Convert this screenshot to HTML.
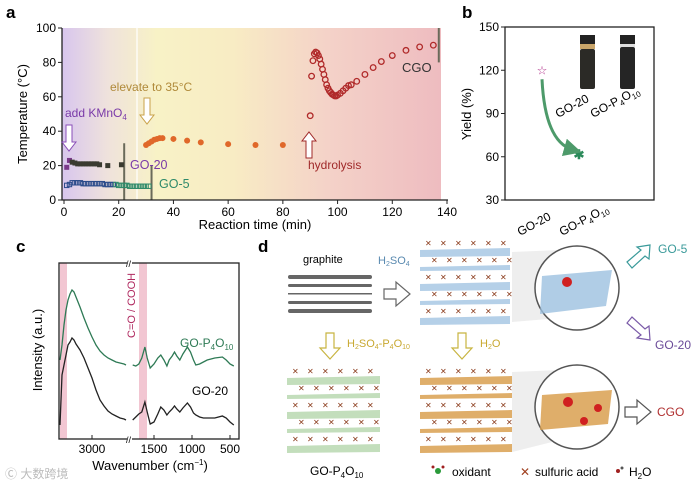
<!DOCTYPE html>
<html><head><meta charset="utf-8"><style>
html,body{margin:0;padding:0;background:#fff;width:700px;height:489px;overflow:hidden}
svg{font-family:"Liberation Sans",Arial,sans-serif}
</style></head><body>
<svg id="fig" width="700" height="489" viewBox="0 0 700 489" xmlns="http://www.w3.org/2000/svg">
<defs>
<linearGradient id="bga" x1="0" x2="1" y1="0" y2="0">
<stop offset="0" stop-color="#d8c6ee"/><stop offset="0.12" stop-color="#efe2dc"/><stop offset="0.25" stop-color="#f8f2c6"/><stop offset="0.45" stop-color="#f8ecc4"/><stop offset="0.7" stop-color="#f4d2c8"/><stop offset="1" stop-color="#eebcc0"/>
</linearGradient>
<marker id="ah" markerWidth="6" markerHeight="6" refX="3" refY="3" orient="auto"><path d="M0,0 L6,3 L0,6 Z" fill="#4d9a6a"/></marker>
</defs>
<g>
<text x="6" y="18" font-size="17" font-weight="bold">a</text>
<rect x="62" y="28" width="379" height="172" fill="url(#bga)"/>
<line x1="137" y1="28" x2="137" y2="200" stroke="#fff" stroke-width="1.5" opacity="0.8"/>
<g id="a-marks"></g>
<path d="M62,28 V200 H448" fill="none" stroke="#222" stroke-width="1.3"/>
<g id="a-axes"></g>
<text x="255" y="229" font-size="13" text-anchor="middle">Reaction time (min)</text>
<text transform="translate(27,114) rotate(-90)" font-size="13" text-anchor="middle">Temperature (°C)</text>
<text x="65" y="117" font-size="12" fill="#7a3aa8">add KMnO<tspan font-size="8" dy="3">4</tspan></text>
<path d="M66,125 h6 v17 h4 l-7,9 l-7,-9 h4 z" fill="#fff" stroke="#8a4fb8" stroke-width="1"/>
<text x="110" y="91" font-size="12" fill="#b08a3a">elevate to 35°C</text>
<path d="M144,98 h6 v17 h4 l-7,9 l-7,-9 h4 z" fill="#fff" stroke="#c9a24a" stroke-width="1"/>
<text x="130" y="169" font-size="12.5" fill="#7a3aa8">GO-20</text>
<text x="159" y="188" font-size="12.5" fill="#2e8a6a">GO-5</text>
<text x="308" y="169" font-size="12" fill="#a02a2a">hydrolysis</text>
<path d="M306,158 h6 v-17 h4 l-7,-9 l-7,9 h4 z" fill="#fff" stroke="#a02a2a" stroke-width="1"/>
<text x="402" y="72" font-size="13" fill="#333">CGO</text>
</g>
<g>
<text x="462" y="18" font-size="17" font-weight="bold">b</text>
<rect x="505" y="27" width="149" height="173" fill="#fff" stroke="#222" stroke-width="1.3"/>
<g id="b-axes"></g>
<text transform="translate(471,114) rotate(-90)" font-size="13" text-anchor="middle">Yield (%)</text>
<rect x="580" y="35" width="15" height="9" fill="#222"/><rect x="580" y="44" width="15" height="5" fill="#c9a56a"/><rect x="580" y="49" width="15" height="40" rx="2" fill="#2b2a26"/>
<rect x="620" y="35" width="15" height="9" fill="#222"/><rect x="620" y="44" width="15" height="3" fill="#ddd"/><rect x="620" y="47" width="15" height="42" rx="2" fill="#252525"/>
<text transform="translate(558,118) rotate(-28)" font-size="12">GO-20</text>
<text transform="translate(593,118) rotate(-28)" font-size="12">GO-P<tspan font-size="8" dy="3">4</tspan><tspan dy="-3">O</tspan><tspan font-size="8" dy="3">10</tspan></text>
<g id="b-marks"></g>
<text transform="translate(520,236) rotate(-28)" font-size="12">GO-20</text>
<text transform="translate(562,236) rotate(-28)" font-size="12">GO-P<tspan font-size="8" dy="3">4</tspan><tspan dy="-3">O</tspan><tspan font-size="8" dy="3">10</tspan></text>
</g>
<g>
<text x="16" y="252" font-size="17" font-weight="bold">c</text>
<rect x="60" y="263" width="7" height="176" fill="#f2c6d2"/>
<rect x="139" y="263" width="8" height="176" fill="#f2c6d2"/>
<g id="c-marks"></g>
<rect x="59" y="263" width="180" height="176" fill="none" stroke="#222" stroke-width="1.3"/>
<rect x="127" y="259" width="5" height="8" fill="#fff"/><rect x="127" y="435" width="5" height="8" fill="#fff"/>
<text x="126" y="267" font-size="9">//</text><text x="126" y="443" font-size="9">//</text>
<g id="c-axes"></g>
<text x="150" y="470" font-size="13" text-anchor="middle">Wavenumber (cm<tspan font-size="8" dy="-5">−1</tspan><tspan dy="5">)</tspan></text>
<text transform="translate(42,350) rotate(-90)" font-size="13" text-anchor="middle">Intensity (a.u.)</text>
<text transform="translate(135,338) rotate(-90)" font-size="11" fill="#b02a60">C=O / COOH</text>
<text x="180" y="347" font-size="12" fill="#2e7a55">GO-P<tspan font-size="8" dy="3">4</tspan><tspan dy="-3">O</tspan><tspan font-size="8" dy="3">10</tspan></text>
<text x="192" y="395" font-size="12">GO-20</text>
<text x="5" y="478" font-size="12" fill="#bbb">Ⓒ 大数跨境</text>
</g>
<g font-size="11">
<text x="258" y="252" font-size="17" font-weight="bold">d</text>
<text x="303" y="263">graphite</text>
<g fill="#666">
<rect x="288" y="275" width="84" height="4" rx="2"/><rect x="288" y="284" width="84" height="3" rx="1.5"/><rect x="288" y="293" width="84" height="1.5"/><rect x="288" y="301" width="84" height="3" rx="1.5"/><rect x="288" y="309" width="84" height="4" rx="2"/></g>
<text x="378" y="264" fill="#5a8ab0">H<tspan font-size="7" dy="2">2</tspan><tspan dy="-2">SO</tspan><tspan font-size="7" dy="2">4</tspan></text>
<path d="M384,289 h12 v-7 l14,12 l-14,12 v-7 h-12 z" fill="#fff" stroke="#666" stroke-width="1.2"/>
<g id="d-stacks"></g>
<path d="M512,322 L560,318 L560,250 L512,252 Z" fill="#ddd" opacity="0.5"/>
<path d="M512,452 L560,440 L560,370 L512,372 Z" fill="#ddd" opacity="0.5"/>
<circle cx="577" cy="288" r="42" fill="#fff" stroke="#555" stroke-width="1.5"/>
<path d="M542,276 L612,270 L606,306 L540,314 Z" fill="#9cc0e0" opacity="0.8"/>
<circle cx="577" cy="407" r="42" fill="#fff" stroke="#555" stroke-width="1.5"/>
<path d="M542,395 L612,390 L608,424 L540,430 Z" fill="#d9a050" opacity="0.85"/>
<circle cx="567" cy="282" r="5" fill="#d02020"/><circle cx="568" cy="402" r="5" fill="#d02020"/><circle cx="598" cy="408" r="4" fill="#d02020"/><circle cx="584" cy="421" r="4" fill="#d02020"/>
<path d="M627,262 l14,-12 l-4,-3 l13,-2 l-1,14 l-4,-3 l-13,12 z" fill="#fff" stroke="#3a9a9a" stroke-width="1.2"/>
<text x="658" y="253" font-size="12" fill="#3a9a9a">GO-5</text>
<path d="M627,323 l14,12 l-4,3 l13,2 l-1,-14 l-4,3 l-13,-12 z" fill="#fff" stroke="#7a5aa8" stroke-width="1.2"/>
<text x="655" y="349" font-size="12" fill="#6a4a98">GO-20</text>
<path d="M625,407 h12 v-7 l14,12 l-14,12 v-7 h-12 z" fill="#fff" stroke="#555" stroke-width="1.2"/>
<text x="657" y="416" font-size="12" fill="#b03030">CGO</text>
<path d="M326,333 h8 v15 h6 l-10,11 l-10,-11 h6 z" fill="#fff" stroke="#c8b440" stroke-width="1.2"/>
<text x="347" y="347" fill="#c8a830">H<tspan font-size="7" dy="2">2</tspan><tspan dy="-2">SO</tspan><tspan font-size="7" dy="2">4</tspan><tspan dy="-2">-P</tspan><tspan font-size="7" dy="2">4</tspan><tspan dy="-2">O</tspan><tspan font-size="7" dy="2">10</tspan></text>
<path d="M458,333 h8 v15 h6 l-10,11 l-10,-11 h6 z" fill="#fff" stroke="#c8b440" stroke-width="1.2"/>
<text x="480" y="347" fill="#c8a830">H<tspan font-size="7" dy="2">2</tspan><tspan dy="-2">O</tspan></text>
<text x="310" y="475" font-size="12">GO-P<tspan font-size="8" dy="3">4</tspan><tspan dy="-3">O</tspan><tspan font-size="8" dy="3">10</tspan></text>
<circle cx="438" cy="471" r="3" fill="#2a9a3a"/><circle cx="433" cy="467" r="1.5" fill="#a02020"/><circle cx="443" cy="467" r="1.5" fill="#a02020"/>
<text x="452" y="476" font-size="12">oxidant</text>
<text x="520" y="476" font-size="12" fill="#a04020">✕</text>
<text x="535" y="476" font-size="12">sulfuric acid</text>
<circle cx="618" cy="471" r="2" fill="#a02020"/><circle cx="622" cy="468" r="1.5" fill="#555"/>
<text x="629" y="476" font-size="12">H<tspan font-size="8" dy="3">2</tspan><tspan dy="-3">O</tspan></text>
</g>
</svg>
<script>
// ---- Panel a data ----
const go20T=[1,2,3,4,5,6,7,8,9,10,11,12,13,16,21];
const go20V=[19,23,22,21.5,21,21,21,21,21,21,21,21,20.5,20,20.5];
const go5T=[1,2,3,4,5,6,7,8,9,10,11,12,13,14,15,16,17,18,19,20,21,22,23,24,25,26,27,28,29,30,31];
const go5V=[8.5,9,10,10,10,10,9.5,9.5,9.5,9.5,9.5,9.5,9.5,9.5,9,9,9,9,9,8.5,8.5,8.5,8.5,8,8,8,8,8,8,8,8];
const elevT=[30,31,32,33,34,35,36,40,45,50,60,70,80];
const elevV=[32,33,34,35,35.5,36,36,35.5,34.5,33.5,32.5,32,32];
const hydT=[90,90.5,91,91.5,92,92.5,93,93.5,94,94.5,95,95.5,96,96.5,97,97.5,98,98.5,99,99.5,100,101,102,103,104,105,107,110,113,116,120,125,130,135];
const hydV=[49,72,81,85,86,85.5,84,82,79,76,73,70,67,65,63.5,62.5,61.5,61,60.5,60.5,61,62,63.5,65,66.5,67,69,73,77,80.5,84,87,89,90];
const aXTicks=[0,20,40,60,80,100,120,140];
const aYTicks=[0,20,40,60,80,100];
// ---- Panel b data ----
const bCats=["GO-20","GO-P4O10"];
const bVals=[120,62];
const bYTicks=[30,60,90,120,150];
// ---- Panel c data ----
const cLeftW=[3800,3750,3700,3650,3600,3550,3500,3450,3400,3350,3300,3200,3100,3000,2900,2800,2700,2600,2500,2400,2300,2200,2150];
const cGreenL=[80,95,115,130,140,146,150,148,143,138,133,122,112,103,95,89,85,82,80,78,77,76,75];
const cBlackL=[15,65,75,85,95,98,102,100,96,93,90,82,72,62,50,40,34,29,26,24,22,21,20];
const cRightW=[1780,1740,1700,1660,1620,1590,1550,1500,1450,1410,1370,1330,1300,1260,1230,1200,1160,1120,1060,1020,980,950,900,850,800,700,600,550,500,450];
const cGreenR=[75,74,76,82,93,82,72,76,82,85,80,74,80,84,88,84,80,86,93,88,80,75,76,78,80,82,83,80,76,74];
const cBlackR=[20,23,26,28,38,28,16,18,26,33,30,25,28,31,34,31,28,32,37,33,27,25,23,22,22,22,24,22,18,15];
const cTicks=[3000,1500,1000,500];

const NS="http://www.w3.org/2000/svg";
function mk(p,tag,at){const e=document.createElementNS(NS,tag);for(const k in at)e.setAttribute(k,at[k]);p.appendChild(e);return e;}
const ax=t=>64+t*(447-64)/140, ay=v=>200-v*1.72;
const aM=document.getElementById('a-marks'), aA=document.getElementById('a-axes');
[[22,0,33],[32,0,20],[137,80,100]].forEach(l=>{const e=mk(aM,'line',{x1:ax(l[0]),x2:ax(l[0]),y1:ay(l[1]),y2:ay(l[2]),stroke:'#6a6a5a','stroke-width':2});

});
go20T.forEach((t,i)=>{const e=mk(aM,'rect',{x:ax(t)-2.5,y:ay(go20V[i])-2.5,width:5,height:5,fill:i<2?'#7a3a8a':'#3a3a30'});

});
go5T.forEach((t,i)=>{const e=mk(aM,'rect',{x:ax(t)-2.2,y:ay(go5V[i])-2.2,width:4.4,height:4.4,fill:'none',stroke:i<18?'#2a4a8a':'#2e8a6a','stroke-width':1});

});
elevT.forEach((t,i)=>{const e=mk(aM,'circle',{cx:ax(t),cy:ay(elevV[i]),r:3,fill:'#e0682a'});

});
hydT.forEach((t,i)=>{const e=mk(aM,'circle',{cx:ax(t),cy:ay(hydV[i]),r:2.8,fill:'none',stroke:'#b02a2a','stroke-width':1.3});

});
aXTicks.forEach(t=>{mk(aA,'line',{x1:ax(t),x2:ax(t),y1:200,y2:204,stroke:'#222'});
const e=mk(aA,'text',{x:ax(t),y:216,'font-size':12,'text-anchor':'middle'});e.textContent=t;

});
aYTicks.forEach(v=>{mk(aA,'line',{x1:58,x2:62,y1:ay(v),y2:ay(v),stroke:'#222'});
const e=mk(aA,'text',{x:56,y:ay(v)+4,'font-size':12,'text-anchor':'end'});e.textContent=v;

});
const by=v=>200-(v-30)*(173/120);
const bxs=[542,579];
const bA=document.getElementById('b-axes'), bM=document.getElementById('b-marks');
bYTicks.forEach(v=>{mk(bA,'line',{x1:501,x2:505,y1:by(v),y2:by(v),stroke:'#222'});
const e=mk(bA,'text',{x:499,y:by(v)+4,'font-size':12,'text-anchor':'end'});e.textContent=v;

});
const st=mk(bM,'text',{x:bxs[0],y:by(bVals[0])+4,'font-size':12,'text-anchor':'middle',fill:'#b0308a'});st.textContent='☆';


const as=mk(bM,'text',{x:bxs[1],y:by(bVals[1])+5,'font-size':13,'text-anchor':'middle',fill:'#2a8a5a','font-weight':'bold'});as.textContent='✱';


const ar=mk(bM,'path',{d:`M${bxs[0]},${by(bVals[0])+9} Q${bxs[0]+3},${by(bVals[1])-12} ${bxs[1]-6},${by(bVals[1])-4}`,fill:'none',stroke:'#4d9a6a','stroke-width':3,'marker-end':'url(#ah)'});


const cxL=w=>60+(3800-w)*0.04, cxR=w=>154+(1500-w)*0.076, cy=I=>440-I;
const cM=document.getElementById('c-marks'), cA=document.getElementById('c-axes');
function line(ws,vs,fx,col,name){const d=ws.map((w,i)=>(i?'L':'M')+fx(w).toFixed(1)+','+cy(vs[i]).toFixed(1)).join(' ');
const e=mk(cM,'path',{d:d,fill:'none',stroke:col,'stroke-width':1.3});

}
line(cLeftW,cGreenL,cxL,'#2e7a55','spectrum-gop4o10-left');
line(cRightW,cGreenR,cxR,'#2e7a55','spectrum-gop4o10-right');
line(cLeftW,cBlackL,cxL,'#222','spectrum-go20-left');
line(cRightW,cBlackR,cxR,'#222','spectrum-go20-right');
cTicks.forEach(w=>{const x=w>2000?cxL(w):cxR(w);mk(cA,'line',{x1:x,x2:x,y1:439,y2:435,stroke:'#222'});
const e=mk(cA,'text',{x:x,y:453,'font-size':12,'text-anchor':'middle'});e.textContent=w;

});
const dS=document.getElementById('d-stacks');
function stack(x,y,w,n,gap,col,name){const g=mk(dS,'g',{});


for(let i=0;i<n;i++){const yy=y+i*gap;mk(g,'path',{d:`M${x},${yy} L${x+w},${yy-2} L${x+w},${yy+(i%2?3:6)} L${x},${yy+(i%2?4:7)} Z`,fill:col,opacity:0.85});
for(let j=0;j<6;j++){mk(g,'text',{x:x+5+j*15+(i%2)*6,y:yy-4,'font-size':8,fill:'#8a3a1a'}).textContent='✕';}}}
stack(420,250,90,5,17,'#a8c8e4','stack-h2so4');
stack(287,378,93,5,17,'#b8d8b0','stack-gop4o10');
stack(420,378,92,5,17,'#d9a050','stack-h2o');
</script>
</body></html>
